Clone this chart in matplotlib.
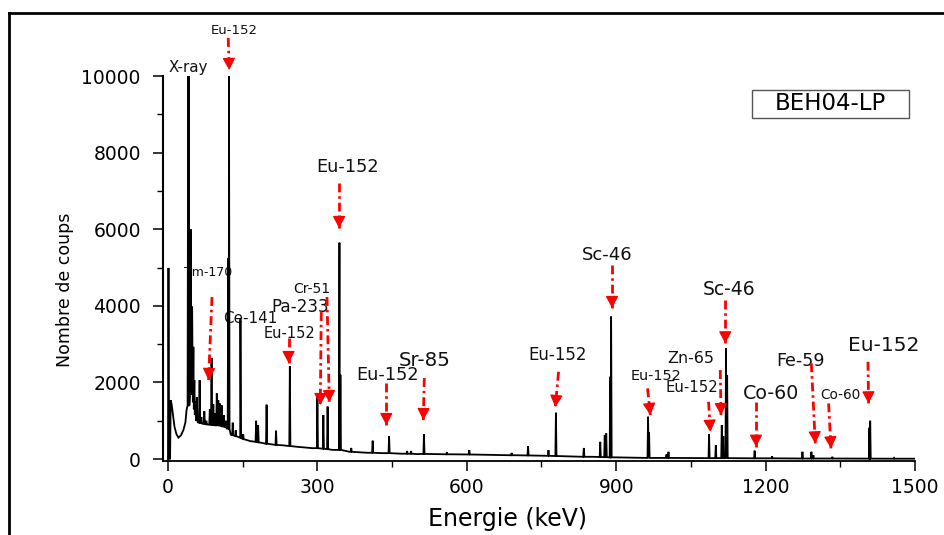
import matplotlib
matplotlib.use("Agg")
import matplotlib.pyplot as plt
import numpy as np
from matplotlib.lines import Line2D
from matplotlib.patches import Rectangle

# Continuum of the gamma spectrum (energy in keV, counts)
continuum_energy = [0.0, 1.0, 2.2, 4.2, 5.5, 7.5, 10, 13, 17, 21, 26, 31, 35, 37.5,
                    44, 50, 56, 60, 70, 80, 90, 100, 110, 118, 126, 135, 145, 155,
                    165, 180, 200, 230, 260, 290, 330, 365, 400, 430, 470, 500, 570,
                    650, 700, 780, 850, 900, 980, 1050, 1150, 1250, 1350, 1450, 1500]
continuum_counts = [0, 4990, 10, 10, 1540, 1420, 1150, 850, 650, 560, 620, 760, 960, 1300,
                    1700, 1500, 1100, 960, 920, 900, 880, 870, 850, 800, 640, 600, 560, 510,
                    470, 440, 400, 360, 320, 285, 240, 190, 165, 155, 140, 130, 125,
                    110, 100, 80, 60, 45, 30, 28, 22, 16, 14, 11, 10]

# Photopeaks: centroid (keV), apex counts, counts at the foot of the peak
peak_energy = [40.5, 41.8, 45.5, 48.5, 51, 53, 55, 58, 63.5, 67, 73, 77, 84, 87.5,
               91, 94, 98, 101, 104, 108, 112, 116, 121, 122.5, 130, 136, 145.5,
               151, 177, 181, 198, 217, 244.7, 300, 312, 320.5, 344.3, 346.2, 368,
               411, 444, 480, 488, 514, 560, 605, 690, 723, 764, 779, 835, 868,
               877, 880, 888, 889.8, 964, 966, 1001, 1005, 1086.5, 1100, 1112,
               1115, 1120.5, 1122.8, 1178, 1213, 1274, 1292, 1296, 1334, 1408.5,
               1410, 1458]
peak_counts = [10000, 10000, 6000, 3980, 2930, 2060, 1500, 1620, 2060, 1100, 1250, 1000,
               1300, 2640, 1430, 1200, 1715, 1540, 1450, 1400, 1150, 1000, 5250, 10000,
               950, 750, 3650, 650, 1000, 890, 1420, 740, 2430, 1720, 1150, 1370, 5650,
               2200, 290, 480, 600, 210, 210, 650, 180, 235, 160, 340, 235, 1210, 290,
               450, 630, 670, 2150, 3720, 1105, 700, 120, 190, 650, 365, 890, 600, 2890,
               2190, 220, 70, 190, 190, 100, 60, 820, 1000, 30]
peak_floor = [1400, 1400, 1700, 1700, 1500, 1300, 1150, 1000, 950, 930, 920, 910, 900,
              890, 890, 880, 880, 875, 870, 860, 850, 830, 800, 780, 620, 600, 560, 520,
              450, 440, 400, 370, 340, 285, 270, 260, 240, 240, 190, 165, 155, 140, 140,
              135, 125, 120, 100, 95, 85, 80, 60, 55, 50, 50, 45, 45, 30, 30, 30, 30,
              25, 25, 25, 25, 25, 25, 20, 20, 15, 15, 15, 15, 12, 12, 10]

# Nuclide labels: text, text position (keV, counts), arrow tail and tip (keV, counts), font size
labels = ["Eu-152", "X-ray", "Eu-152", "Tm-170", "Ce-141", "Pa-233", "Cr-51", "Eu-152",
          "Eu-152", "Sr-85", "Eu-152", "Sc-46", "Eu-152", "Zn-65", "Eu-152", "Sc-46",
          "Co-60", "Fe-59", "Co-60", "Eu-152"]
label_xy = [(133, 11200), (41, 10209), (360, 7624), (81, 4883), (165, 3681), (266, 3969),
            (288, 4439), (245, 3290), (440, 2193), (515, 2585), (782, 2715), (882, 5326),
            (980, 2167), (1049, 2637), (1051, 1880), (1127, 4439), (1211, 1723),
            (1270, 2559), (1350, 1671), (1437, 2977)]
label_size = [9.5, 10.8, 12.8, 9.0, 10.9, 12.1, 10.0, 10.5, 12.8, 14.2, 12.0, 13.0,
              10.4, 11.4, 10.7, 13.5, 13.7, 12.6, 9.8, 14.5]
arrow_tail = [(121, 10992), None, (343.6, 7206), (88.4, 4230), None, (307.8, 3838),
              (319.3, 4230), (242.2, 3159), (438.4, 1984), (514.7, 2115), (784.3, 2279),
              (891.6, 5065), (963, 1846), (1109, 2324), (1085.5, 1496), (1119, 4151),
              (1180.7, 1496), (1291.8, 2499), (1326.5, 1454), (1405.6, 2540)]
arrow_tip = [(123, 10157), None, (343.6, 6031), (81.5, 2063), None, (305.8, 1410),
             (323.9, 1488), (242.2, 2507), (438.4, 888), (512.7, 1018), (777.7, 1358),
             (891.6, 3943), (968.5, 1149), (1110.4, 1149), (1089, 713), (1119, 3021),
             (1180.7, 321), (1299.8, 410), (1331.3, 279), (1406.8, 1454)]

x_ticks = [0, 300, 600, 900, 1200, 1500]
y_ticks = [0, 2000, 4000, 6000, 8000, 10000]

W, H = 944, 535
fig = plt.figure(figsize=(W / 100, H / 100), dpi=100)
ax = fig.add_axes([163 / W, (H - 461) / H, (915 - 163) / W, (461 - 76) / H])

# assemble the spectrum trace
pts = list(zip(continuum_energy, continuum_counts))
hw = 1.1
for e, top, fl in zip(peak_energy, peak_counts, peak_floor):
    pts += [(e - hw, fl), (e, top), (e + hw, fl)]
pts.sort(key=lambda p: p[0])
spec_e = [p[0] for p in pts]
spec_c = [p[1] for p in pts]
ax.plot(spec_e, spec_c, color="black", lw=1.3, zorder=3, solid_joinstyle="miter")

ax.set_xlim(-10, 1500)
ax.set_ylim(-50, 10000)
ax.set_xticks(x_ticks)
ax.set_yticks(y_ticks)
ax.set_xticks([150, 450, 750, 1050, 1350], minor=True)
ax.set_yticks([1000, 3000, 5000, 7000, 9000], minor=True)
ax.spines["top"].set_visible(False)
ax.spines["right"].set_visible(False)
ax.spines["left"].set_linewidth(1.5)
ax.spines["bottom"].set_linewidth(1.3)
ax.tick_params(axis="both", which="major", direction="out", length=7.5, width=1.1,
               labelsize=13.5)
ax.tick_params(axis="both", which="minor", direction="out", length=4.5, width=1.0)
ax.tick_params(axis="y", which="major", pad=8.5)
ax.tick_params(axis="x", which="major", pad=5)

# nuclide labels
for txt, (tx, ty), fs in zip(labels, label_xy, label_size):
    ax.text(tx, ty, txt, ha="center", va="center", fontsize=fs, color="#111111",
            zorder=2, clip_on=False)

# red dash-dot arrows
fig.canvas.draw()
for tail, tip in zip(arrow_tail, arrow_tip):
    if tail is None:
        continue
    ax.plot([tail[0], tip[0]], [tail[1], tip[1]], color="red", lw=2.0,
            linestyle=(0, (3.2, 1.4, 0.9, 1.4)), zorder=4, clip_on=False,
            solid_capstyle="butt", dash_capstyle="butt")
    p0 = ax.transData.transform(tail)
    p1 = ax.transData.transform(tip)
    d = p1 - p0
    u = d / np.hypot(*d)
    ax.annotate("", xy=tip, xycoords="data", xytext=(-u[0] * 10, -u[1] * 10),
                textcoords="offset pixels", annotation_clip=False, zorder=5,
                arrowprops=dict(arrowstyle="-|>,head_length=0.6,head_width=0.32",
                                color="red", lw=1.0, mutation_scale=12,
                                shrinkA=0, shrinkB=0))

# sample tag
fig.add_artist(Rectangle((752 / W, (H - 118) / H), 157 / W, 28 / H,
                         transform=fig.transFigure, facecolor="white",
                         edgecolor="#555555", lw=1.0))
fig.text(830.5 / W, (H - 104) / H, "BEH04-LP", ha="center", va="center",
         fontsize=16.5, color="black")

# axis titles
fig.text(508 / W, (H - 519) / H, "Energie (keV)", ha="center", va="center", fontsize=17)
fig.text(65 / W, (H - 290) / H, "Nombre de coups", ha="center", va="center",
         rotation=90, fontsize=12.5)

# outer frame
fig.add_artist(Line2D([8.7 / W, 8.7 / W], [0, (H - 12.8) / H], transform=fig.transFigure,
                      color="black", lw=2.0, solid_capstyle="projecting"))
fig.add_artist(Line2D([8.7 / W, 1.0], [(H - 12.8) / H, (H - 12.8) / H],
                      transform=fig.transFigure, color="black", lw=2.0,
                      solid_capstyle="projecting"))

fig.savefig("out.png", dpi=100)
